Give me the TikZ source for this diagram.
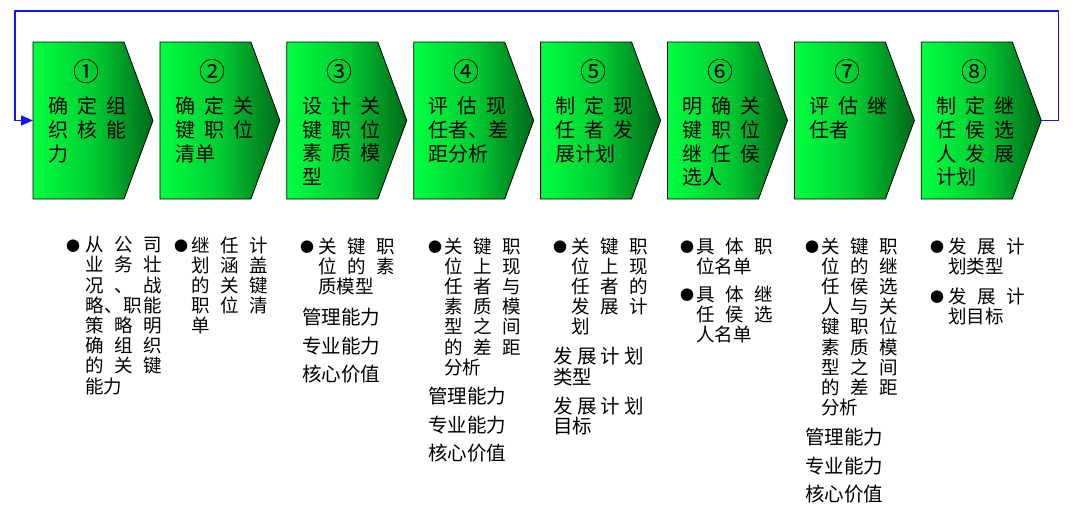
\documentclass[tikz,border=0pt]{standalone}
\usepackage{fontspec}
\setmainfont{Noto Sans CJK SC}
\usepackage{xcolor}
\usepackage{tikz}
\usetikzlibrary{arrows.meta, calc}

\definecolor{gbright}{RGB}{0,255,64}
\definecolor{gmid}{RGB}{0,205,50}
\definecolor{gdark}{RGB}{0,105,25}
\definecolor{loopblue}{RGB}{20,20,245}

\newcommand\br[1]{\makebox[78pt][s]{#1}}
\newcommand\jr[2][76.5pt]{\makebox[#1][s]{#2}}

\begin{document}
\begin{tikzpicture}[x=1pt, y=-1pt,
    box/.style={draw=black, line width=0.8pt, left color=gbright, right color=gdark, middle color=gmid},
    numtxt/.style={font=\fontsize{26}{26}\selectfont, inner sep=0pt},
    boxtxt/.style={font=\fontsize{20}{23.7}\selectfont, align=left, inner sep=0pt, anchor=north west, execute at begin node={\rule{0pt}{0.9em}}},
    bultxt/.style={font=\fontsize{18.5}{20.2}\selectfont, align=left, inner sep=0pt, anchor=north west, execute at begin node={\rule{0pt}{0.9em}}},
    subtxt/.style={font=\fontsize{19.5}{28.5}\selectfont, align=left, inner sep=0pt, anchor=north west, execute at begin node={\rule{0pt}{0.9em}}},
    dot/.style={font=\fontsize{14}{14}\selectfont, inner sep=0pt},
    loopline/.style={draw=loopblue, line width=1.5pt, -{Triangle[length=12pt, width=10pt]}}]
    \useasboundingbox (0,0) rectangle (1080,522);

    % the eight steps
    \foreach \i/\n/\txt in {
        1/①/{\br{确\hfil 定\hfil 组}\\\br{织\hfil 核\hfil 能}\\力},
        2/②/{\br{确\hfil 定\hfil 关}\\\br{键\hfil 职\hfil 位}\\清单},
        3/③/{\br{设\hfil 计\hfil 关}\\\br{键\hfil 职\hfil 位}\\\br{素\hfil 质\hfil 模}\\型},
        4/④/{\br{评\hfil 估\hfil 现}\\\br{任\hfil 者\hfil 、\hfil 差}\\距分析},
        5/⑤/{\br{制\hfil 定\hfil 现}\\\br{任\hfil 者\hfil 发}\\展计划},
        6/⑥/{\br{明\hfil 确\hfil 关}\\\br{键\hfil 职\hfil 位}\\\br{继\hfil 任\hfil 侯}\\选人},
        7/⑦/{\br{评\hfil 估\hfil 继}\\任者},
        8/⑧/{\br{制\hfil 定\hfil 继}\\\br{任\hfil 侯\hfil 选}\\\br{人\hfil 发\hfil 展}\\计划}} {
        \pgfmathsetmacro\L{33+126.9*(\i-1)}
        \path[box] (\L,42) -- ++(91,0) -- ++(29,78.5) -- ++(-29,78.5) -- ++(-91,0) -- cycle;
        \coordinate (bw\i) at (\L,120.5);
        \coordinate (be\i) at (\L+120,120.5);
        \node[numtxt] (n\i) at (\L+53,72) {\n};
        \node[boxtxt] (t\i) at (\L+15,96.6) {\txt};
    }

    % loop back from the last step to the first
    \coordinate (looptop) at (0,11);
    \draw[loopline] (be8) -- ++(17,0) coordinate (lpr) -- (lpr |- looptop) -| ([xshift=-18pt]bw1) -- (bw1);

    % bullets
    \foreach \x/\y [count=\k] in {73/246, 181/246, 307/247, 435/247, 560/247, 687/247, 687/295, 812/247, 937/247, 937/297}
        \node[dot] (d\k) at (\x,\y) {●};

    % notes under the steps
    \node[bultxt] (p1) at (85,236.4) {\jr{从\hfil 公\hfil 司}\\\jr{业\hfil 务\hfil 壮}\\\jr{况\hfil 、\hfil 战}\\\jr{略\hfil 、\hfil 职\hfil 能}\\\jr{策\hfil 略\hfil 明}\\\jr{确\hfil 组\hfil 织}\\\jr{的\hfil 关\hfil 键}\\能力};
    \node[bultxt] (p2) at (191,236.4) {\jr{继\hfil 任\hfil 计}\\\jr{划\hfil 涵\hfil 盖}\\\jr{的\hfil 关\hfil 键}\\\jr{职\hfil 位\hfil 清}\\单};
    \node[bultxt] (p3) at (318,237.4) {\jr{关\hfil 键\hfil 职}\\\jr{位\hfil 的\hfil 素}\\质模型};
    \node[subtxt] (s3) at (302,307.9) {管理能力\\专业能力\\核心价值};
    \node[bultxt] (p4) at (444,237.4) {\jr{关\hfil 键\hfil 职}\\\jr{位\hfil 上\hfil 现}\\\jr{任\hfil 者\hfil 与}\\\jr{素\hfil 质\hfil 模}\\\jr{型\hfil 之\hfil 间}\\\jr{的\hfil 差\hfil 距}\\分析};
    \node[subtxt] (s4) at (428,386.9) {管理能力\\专业能力\\核心价值};
    \node[bultxt] (p5) at (571,237.4) {\jr{关\hfil 键\hfil 职}\\\jr{位\hfil 上\hfil 现}\\\jr{任\hfil 者\hfil 的}\\\jr{发\hfil 展\hfil 计}\\划};
    \node[subtxt, font=\fontsize{19.5}{20.5}\selectfont] (s5) at (553,346.9) {\jr[91pt]{发\hfil 展\hfil 计\hfil 划}\\类型\\[8.5pt]\jr[91pt]{发\hfil 展\hfil 计\hfil 划}\\目标};
    \node[bultxt] (p6) at (696,237.4) {\jr{具\hfil 体\hfil 职}\\位名单};
    \node[bultxt] (p7) at (696,285.4) {\jr{具\hfil 体\hfil 继}\\\jr{任\hfil 侯\hfil 选}\\人名单};
    \node[bultxt] (p8) at (821,237.4) {\jr{关\hfil 键\hfil 职}\\\jr{位\hfil 的\hfil 继}\\\jr{任\hfil 侯\hfil 选}\\\jr{人\hfil 与\hfil 关}\\\jr{键\hfil 职\hfil 位}\\\jr{素\hfil 质\hfil 模}\\\jr{型\hfil 之\hfil 间}\\\jr{的\hfil 差\hfil 距}\\分析};
    \node[subtxt] (s8) at (805,427.9) {管理能力\\专业能力\\核心价值};
    \node[bultxt] (p9) at (948,237.4) {\jr{发\hfil 展\hfil 计}\\划类型};
    \node[bultxt] (p10) at (948,287.4) {\jr{发\hfil 展\hfil 计}\\划目标};
\end{tikzpicture}
\end{document}
